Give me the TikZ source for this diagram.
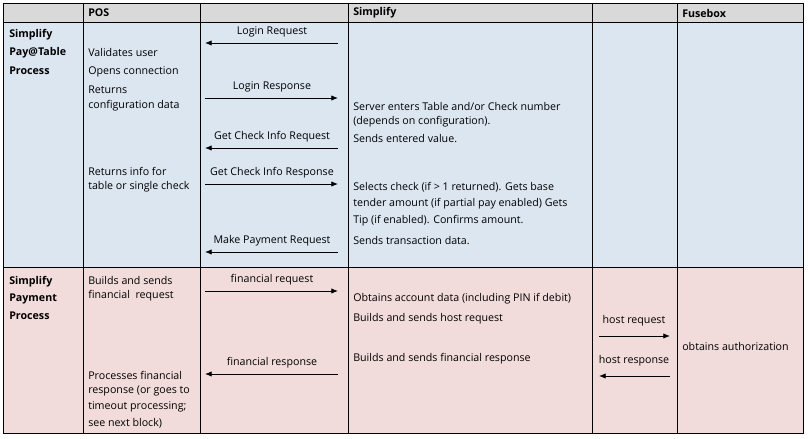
\documentclass[tikz,border=0pt]{standalone}
\usepackage{fontspec}
\setmainfont{Open Sans}
\usetikzlibrary{arrows.meta}
\definecolor{headgray}{RGB}{217,217,217}
\definecolor{rowblue}{RGB}{220,230,241}
\definecolor{rowpink}{RGB}{242,220,219}
\begin{document}
\begin{tikzpicture}[x=0.75pt, y=-0.75pt,
    every node/.style={inner sep=0pt, anchor=west, font=\fontsize{8}{9}\selectfont},
    head/.style={font=\fontsize{8}{9}\selectfont\bfseries},
    msg/.style={anchor=center},
    flow/.style={-{Latex[length=5pt,width=4pt]}, line width=0.6pt}]

    % backgrounds
    \useasboundingbox (0,0) rectangle (808,439);
    \fill[headgray] (3,3) rectangle (803,22);
    \fill[rowblue] (3,22) rectangle (803,267);
    \fill[rowpink] (3,267) rectangle (803,433);
    \draw[line width=0.5pt] (3,3) rectangle (803,433);
    \draw[line width=0.5pt] (3,22) -- (803,22) (3,267) -- (803,267);
    \foreach \x in {83,200,348,592,677}
        \draw[line width=0.5pt] (\x,3) -- (\x,433);

    % header
    \node[head] (hPos) at (88,13) {POS};
    \node[head] (hSimp) at (353,13) {Simplify};
    \node[head] (hFuse) at (682,13) {Fusebox};

    % Pay@Table process
    \node[head] (pA) at (9,35) {Simplify};
    \node[head] (pB) at (9,53) {Pay@Table};
    \node[head] (pC) at (9,71) {Process};
    \node (posA) at (88,52) {Validates user};
    \node (posB) at (88,72) {Opens connection};
    \node (posC) at (88,90) {Returns};
    \node (posD) at (88,106) {configuration data};
    \node (posE) at (88,171) {Returns info for};
    \node (posF) at (88,187) {table or single check};
    \node (simA) at (353,106) {Server enters Table and/or Check number};
    \node (simB) at (353,122) {(depends on configuration).};
    \node (simC) at (353,139) {Sends entered value.};
    \node (simD) at (353,187) {Selects check (if > 1 returned). Gets base};
    \node (simE) at (353,204) {tender amount (if partial pay enabled) Gets};
    \node (simF) at (353,221) {Tip (if enabled). Confirms amount.};
    \node (simG) at (353,241) {Sends transaction data.};

    % Payment process
    \node[head] (qA) at (9,282) {Simplify};
    \node[head] (qB) at (9,299) {Payment};
    \node[head] (qC) at (9,316) {Process};
    \node (posG) at (88,280) {Builds and sends};
    \node (posH) at (88,296) {financial\ \ request};
    \node (posI) at (88,375) {Processes financial};
    \node (posJ) at (88,391) {response (or goes to};
    \node (posK) at (88,407) {timeout processing;};
    \node (posL) at (88,423) {see next block)};
    \node (simH) at (353,299) {Obtains account data (including PIN if debit)};
    \node (simI) at (353,319) {Builds and sends host request};
    \node (simJ) at (353,359) {Builds and sends financial response};
    \node (fuseA) at (682,346) {obtains authorization};

    % messages POS <-> Simplify
    \foreach \n/\y/\t in {lr/43/Login Request, gr/148/Get Check Info Request,
                          mp/252/Make Payment Request, fs/374/financial response} {
        \coordinate (\n L) at (205,\y);
        \coordinate (\n R) at (338,\y);
        \draw[flow] (\n R) -- (\n L);
        \node[msg] (\n T) at (272,\y-11) {\t};
    }
    \foreach \n/\y/\t in {ls/98/Login Response, gs/184/Get Check Info Response,
                          fr/291/financial request} {
        \coordinate (\n L) at (205,\y);
        \coordinate (\n R) at (338,\y);
        \draw[flow] (\n L) -- (\n R);
        \node[msg] (\n T) at (272,\y-11) {\t};
    }

    % messages Simplify <-> Fusebox
    \coordinate (hqL) at (599,336);
    \coordinate (hqR) at (670,336);
    \draw[flow] (hqL) -- (hqR);
    \node[msg] (hqT) at (634,321) {host request};
    \coordinate (hsL) at (599,376);
    \coordinate (hsR) at (670,376);
    \draw[flow] (hsR) -- (hsL);
    \node[msg] (hsT) at (634,361) {host response};

\end{tikzpicture}
\end{document}
